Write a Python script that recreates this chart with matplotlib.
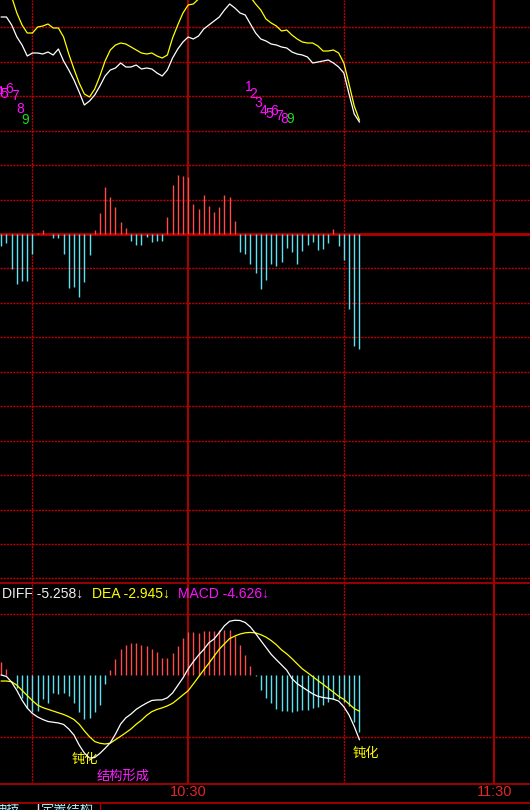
import matplotlib
matplotlib.use("Agg")
import matplotlib.pyplot as plt
from matplotlib.lines import Line2D

plt.rcParams['font.family'] = ['Liberation Sans', 'Noto Sans CJK SC', 'DejaVu Sans']

# ---------------- data (70 one-minute bars) ----------------
# upper panel: price lines, height above the histogram zero line
price_white = [217, 217, 209, 197, 189, 178, 181, 181, 180, 182,
               179, 185, 173, 164, 154, 142, 129, 133, 139, 148,
               158, 164, 166, 171, 167, 167, 169, 165, 166, 165,
               161, 158, 164, 176, 185, 192, 197, 195, 198, 205,
               209, 213, 217, 224, 230, 226, 221, 219, 210, 201,
               195, 193, 190, 189, 187, 186, 182, 180, 179, 177,
               171, 172, 173, 174, 171, 167, 161, 140, 120, 112]
price_yellow = [259, 249, 237, 221, 209, 201, 201, 207, 208, 210,
                206, 206, 197, 180, 165, 151, 140, 137, 145, 158,
                173, 184, 189, 191, 190, 187, 184, 181, 180, 181,
                178, 176, 179, 196, 209, 221, 229, 230, 235, 242,
                249, 254, 259, 262, 261, 256, 249, 243, 237, 230,
                224, 215, 211, 208, 203, 204, 199, 195, 192, 191,
                191, 188, 183, 183, 184, 181, 171, 150, 128, 114]
# upper panel histogram
hist_top = [-12.3, -9, -35.3, -50.3, -47.3, -47.3, -20.3, 1, 3.7, 0.5,
            -4.3, -4.3, -20.3, -54.3, -53.3, -63.3, -48.3, -21.3, 3.7, 20.7,
            46.7, 36.7, 26.7, 11.7, 5.7, -7.3, -11.3, -11.3, -3.3, -8.3,
            -7.3, -7.3, 16.7, 48.7, 58.7, 57.7, 56.7, 29.7, 24.7, 38.7,
            27.7, 21.7, 26.7, 38.7, 36.7, 12.7, -18.3, -20.3, -30.3, -39.3,
            -55.3, -46.3, -30.3, -32.3, -28.3, -14.3, -18.3, -30.3, -17.3, -11.3,
            -8.3, -16.3, -15.3, -9.3, 4.7, -12.3, -26.3, -75.3, -112.3, -115.3]
# count digits under the price lines
td_bars = [-1, 0, 1, 2, 3, 4, 47, 48, 49, 50, 51, 52, 53, 54, 55]
td_labels = ['4', '5', '6', '7', '8', '9', '1', '2', '3', '4', '5', '6', '7', '8', '9']
td_heights = [142.5, 140.5, 145, 138.5, 125, 114, 146.8, 140.5, 131.3, 123,
              120.3, 122.7, 117.7, 115.3, 115.2]

# lower panel MACD
diff = [0.00, -0.12, -0.59, -1.26, -2.05, -2.69, -3.13, -3.41, -3.62, -3.78,
        -3.84, -3.90, -4.02, -4.39, -4.88, -5.69, -6.34, -6.75, -6.71, -6.37,
        -5.96, -5.51, -4.80, -3.98, -3.48, -3.17, -2.79, -2.52, -2.28, -2.07,
        -2.03, -2.02, -1.85, -1.46, -0.85, -0.24, 0.49, 1.08, 1.61, 2.07,
        2.62, 2.93, 3.45, 4.01, 4.37, 4.45, 4.43, 4.27, 3.90, 3.37,
        2.80, 2.24, 1.68, 1.24, 0.82, 0.39, -0.29, -0.70, -0.98, -1.26,
        -1.53, -1.73, -1.83, -1.89, -1.96, -2.12, -2.58, -3.25, -4.18, -5.258]
dea = [-0.49, -0.49, -0.55, -0.83, -1.25, -1.67, -2.09, -2.45, -2.65, -2.79,
       -2.93, -3.07, -3.21, -3.39, -3.62, -4.00, -4.54, -5.02, -5.41, -5.55,
       -5.61, -5.54, -5.26, -4.98, -4.69, -4.38, -4.00, -3.68, -3.28, -2.98,
       -2.80, -2.67, -2.51, -2.30, -1.97, -1.62, -1.28, -0.73, -0.16, 0.41,
       0.96, 1.53, 2.10, 2.54, 2.96, 3.17, 3.33, 3.43, 3.46, 3.42,
       3.28, 3.08, 2.80, 2.46, 2.04, 1.72, 1.33, 0.91, 0.50, 0.19,
       -0.13, -0.45, -0.76, -1.08, -1.40, -1.73, -1.98, -2.36, -2.73, -2.945]
macd = [1.08, 0.45, -0.02, -1.02, -1.87, -2.68, -2.97, -2.90, -1.98, -2.30,
        -1.49, -1.54, -1.44, -1.71, -2.25, -2.98, -3.58, -3.52, -2.98, -2.44,
        -0.73, 0.41, 1.34, 2.15, 2.40, 2.60, 2.60, 2.44, 2.32, 2.11,
        1.83, 1.38, 1.38, 1.79, 2.32, 3.01, 3.46, 3.50, 3.41, 3.58,
        3.54, 3.59, 3.62, 3.64, 3.66, 3.20, 2.46, 1.64, 0.75, -0.07,
        -1.18, -1.83, -2.29, -2.75, -2.89, -2.89, -3.03, -2.95, -2.86, -2.83,
        -2.68, -2.64, -2.40, -2.20, -1.95, -1.95, -2.20, -2.52, -3.86, -4.626]

time_bars = [36, 95]
time_labels = ['10:30', '11:30']
half_hour_bars = [6, 66]

# ---------------- layout helpers ----------------
W, H = 530, 810
X0, DX = 1.3, 5.19          # pixel of bar 0, pixels per bar
RED_DOT = '#c00000'
RED_SOLID = '#a80000'
UP = '#ff4a4a'
DOWN = '#5ce1f0'


def fx(px):
    return px / W


def fy(py):
    return 1 - py / H


xs = list(range(len(hist_top)))
xlim = (-X0 / DX, (W - X0) / DX)
dotted = (0, (1.5, 0.8))

fig = plt.figure(figsize=(W / 100, H / 100), dpi=100, facecolor='black')

# ---- upper area (price + histogram) ----
ax = fig.add_axes([0, fy(583), 1, 583 / H])
ax.set_facecolor('black')
ax.set_xlim(xlim)
ax.set_ylim(234 - 583, 234)
ax.axis('off')

step = 34.44
for k in range(-10, 7):
    if k != 0:
        ax.axhline(k * step, color=RED_DOT, lw=1, ls=dotted, zorder=1)
ax.axhline(0, color='#b40000', lw=2, zorder=1)
for b in half_hour_bars:
    ax.axvline(b, color=RED_DOT, lw=1, ls=dotted, zorder=1)
for b in time_bars:
    ax.axvline(b, color=RED_SOLID, lw=1.5, zorder=1)

ax.vlines(xs, 0, hist_top, colors=[UP if v > 0 else DOWN for v in hist_top], lw=1, zorder=2)
ax.plot(xs, price_yellow, color='#ffff00', lw=0.9, zorder=3)
ax.plot(xs, price_white, color='white', lw=0.9, zorder=4)

for b, lab, h in zip(td_bars, td_labels, td_heights):
    ax.text(b + 0.6, h, lab, color='#20d820' if lab == '9' else '#ff10ff',
            fontsize=10, ha='center', va='center', clip_on=True, zorder=5)

# ---- MACD panel ----
ax2 = fig.add_axes([0, fy(784), 1, (784 - 583) / H])
ax2.set_facecolor('black')
ax2.set_xlim(xlim)
ax2.set_ylim(-109 / 12.3, 92 / 12.3)
ax2.set_xticks([])
ax2.set_yticks([])
for s in ['left', 'right']:
    ax2.spines[s].set_visible(False)
for s in ['top', 'bottom']:
    ax2.spines[s].set_color(RED_SOLID)
    ax2.spines[s].set_linewidth(1.3)

for v in (-5, 5):
    ax2.axhline(v, color=RED_DOT, lw=1, ls=dotted, zorder=1)
for b in half_hour_bars:
    ax2.axvline(b, color=RED_DOT, lw=1, ls=dotted, zorder=1)
for b in time_bars:
    ax2.axvline(b, color=RED_SOLID, lw=1.5, zorder=1)

ax2.vlines(xs, 0, macd, colors=[UP if v > 0 else DOWN for v in macd], lw=1, zorder=2)
ax2.plot(xs, dea, color='#ffff00', lw=0.9, zorder=3)
ax2.plot(xs, diff, color='white', lw=0.9, zorder=4)

ax2.text(16.1, -6.87, '钝化', color='#ffff00', fontsize=9.5, ha='center', va='center')
ax2.text(23.5, -8.25, '结构形成', color='#ff20ff', fontsize=9.5, ha='center', va='center')
ax2.text(70.2, -6.38, '钝化', color='#ffff00', fontsize=9.5, ha='center', va='center')

fig.text(fx(2), fy(594), 'DIFF %.3f↓' % diff[-1], color='#f0f0f0', fontsize=10, va='center')
fig.text(fx(92), fy(594), 'DEA %.3f↓' % dea[-1], color='#ffff00', fontsize=10, va='center')
fig.text(fx(178), fy(594), 'MACD %.3f↓' % macd[-1], color='#ff10ff', fontsize=10, va='center')

# ---- time axis ----
for b, lab in zip(time_bars, time_labels):
    fig.text(fx(X0 + DX * b), fy(792.5), lab, color='#e02828', fontsize=10.5,
             ha='center', va='center')
fig.add_artist(Line2D([0, 1], [fy(803), fy(803)], color=RED_SOLID, lw=1.3))

# ---- clipped tab strip at the very bottom ----
ax3 = fig.add_axes([0, 0, 1, fy(803.5)])
ax3.set_xlim(0, W)
ax3.set_ylim(810, 803.5)
ax3.axis('off')
ax3.text(-6, 803.8, '抽技', color='#a8f0f8', fontsize=9.5, va='top', clip_on=True)
ax3.text(40, 803.8, '定置结构', color='#a8f0f8', fontsize=9.5, va='top', clip_on=True)
ax3.plot([37.7, 37.7], [803.5, 810], color='#e0e0e0', lw=1)
ax3.plot([99.5, 99.5], [803.5, 810], color=RED_SOLID, lw=1)

fig.savefig('out.png', dpi=100, facecolor='black')
